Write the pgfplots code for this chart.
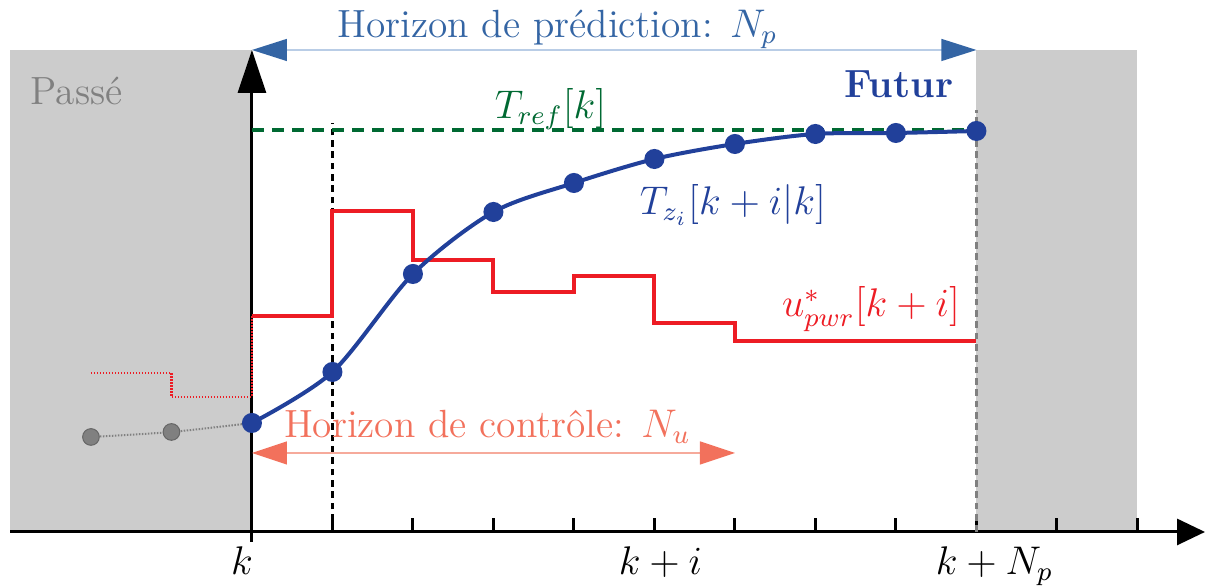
\documentclass[border=0pt]{standalone}
\usepackage{fontspec}
\usepackage{pgfplots}
\pgfplotsset{compat=1.18}
\usetikzlibrary{arrows.meta}
\definecolor{cblue}{RGB}{33,64,154}
\definecolor{cpred}{RGB}{52,101,164}
\definecolor{cpredl}{RGB}{185,205,230}
\definecolor{cgreen}{RGB}{0,105,50}
\definecolor{cred}{RGB}{237,28,36}
\definecolor{csal}{RGB}{242,113,92}
\definecolor{csall}{RGB}{246,170,155}
\definecolor{cgray}{RGB}{128,128,128}
\begin{document}
\begin{tikzpicture}[font=\fontsize{11.8}{14.2}\selectfont]
\begin{axis}[
  set layers,
  x=24.15pt, y=0.3pt,
  xmin=-3, xmax=11.84, ymin=0, ymax=482,
  axis lines=middle,
  enlargelimits=false,
  clip=false,
  axis line style={line width=0.9pt, black},
  x axis line style={-{Triangle[length=8.4pt,width=7.8pt]}},
  y axis line style={-{Triangle[length=12.9pt,width=8.4pt]}},
  xtick={0,1,2,3,4,5,6,7,8,9,10,11},
  xticklabels={{$k$\kern6pt},,,,,{\kern3.6pt$k+i$},,,,{\kern10.8pt$k+N_p$},,},
  hide obscured x ticks=false,
  ytick=\empty,
  tick align=inside,
  major tick length=4.2pt,
  tick style={line width=0.9pt, black},
  xticklabel style={font=\fontsize{11.8}{14.2}\selectfont, yshift=-1pt},
]
% background regions
\begin{pgfonlayer}{axis background}
\fill[black!20] (axis cs:-3,0) rectangle (axis cs:0,482);
\fill[black!20] (axis cs:9,0) rectangle (axis cs:11,482);
\end{pgfonlayer}

% tick below at k
\draw[line width=0.9pt] (axis cs:0,0) -- (axis cs:0,-10);

% vertical guides
\draw[line width=0.8pt, dash pattern=on 2pt off 1.4pt] (axis cs:1,0) -- (axis cs:1,409);
\draw[line width=0.7pt, cgray, dash pattern=on 2pt off 1.4pt] (axis cs:9,0) -- (axis cs:9,422);

% reference
\addplot[cgreen, line width=1.2pt, dash pattern=on 3.6pt off 2.4pt] coordinates {(0,402) (9,402)};

% past control (dotted)
\addplot[cred, line width=0.7pt, dash pattern=on 0.45pt off 0.45pt, const plot] coordinates {(-2,159) (-1,135) (0,216)};
% future control
\addplot[cred, line width=1.2pt, const plot] coordinates {(0,216) (1,321) (2,272) (3,240) (4,256) (5,209) (6,191) (9,191)};

% past output
\addplot[cgray, line width=0.6pt, dash pattern=on 0.45pt off 0.45pt, smooth] coordinates {(-2,95) (-1,100) (0,109)};
\addplot[only marks, mark=*, mark size=2.5pt, mark options={fill=cgray, draw=black!60, line width=0.3pt}] coordinates {(-2,95) (-1,100)};

% predicted output
\addplot[cblue, line width=1.2pt, smooth, mark=*, mark size=2.4pt, mark options={fill=cblue, draw=cblue}]
  coordinates {(0,109) (1,160) (2,258) (3,320) (4,349) (5,373) (6,388) (7,398) (8,399) (9,401)};

% horizons
\draw[cpredl, line width=0.4pt, {Triangle[length=10.5pt,width=6.6pt,color=cpred]}-{Triangle[length=10.5pt,width=6.6pt,color=cpred]}]
  (axis cs:0,482) -- (axis cs:9,482);
\draw[csall, line width=0.4pt, {Triangle[length=10.5pt,width=6.9pt,color=csal]}-{Triangle[length=10.5pt,width=6.9pt,color=csal]}]
  (axis cs:0,79) -- (axis cs:6,79);

% texts
\node[anchor=base, text=cpred, inner sep=0pt] at (axis cs:3.795,494) {Horizon de prédiction: $N_p$};
\node[anchor=base west, text=cgray, inner sep=0pt] at (axis cs:-2.758,427) {Passé};
\node[anchor=base east, text=cblue, inner sep=0pt] at (axis cs:8.72,434) {\bfseries Futur};
\node[anchor=base, text=cgreen, inner sep=0pt] at (axis cs:3.71,413) {$T_{ref}[k]$};
\node[anchor=base, text=cblue, inner sep=0pt] at (axis cs:5.975,317) {$T_{z_i}[k+i|k]$};
\node[anchor=base, text=cred, inner sep=0pt] at (axis cs:7.69,215) {$u^*_{pwr}[k+i]$};
\node[anchor=base, text=csal, inner sep=0pt] at (axis cs:2.925,94) {Horizon de contrôle: $N_u$};

\coordinate (bbSW) at (axis cs:-3.13,-56);
\coordinate (bbNE) at (axis cs:11.84,532);
\end{axis}
\pgfresetboundingbox
\path (bbSW) rectangle (bbNE);
\end{tikzpicture}
\end{document}
